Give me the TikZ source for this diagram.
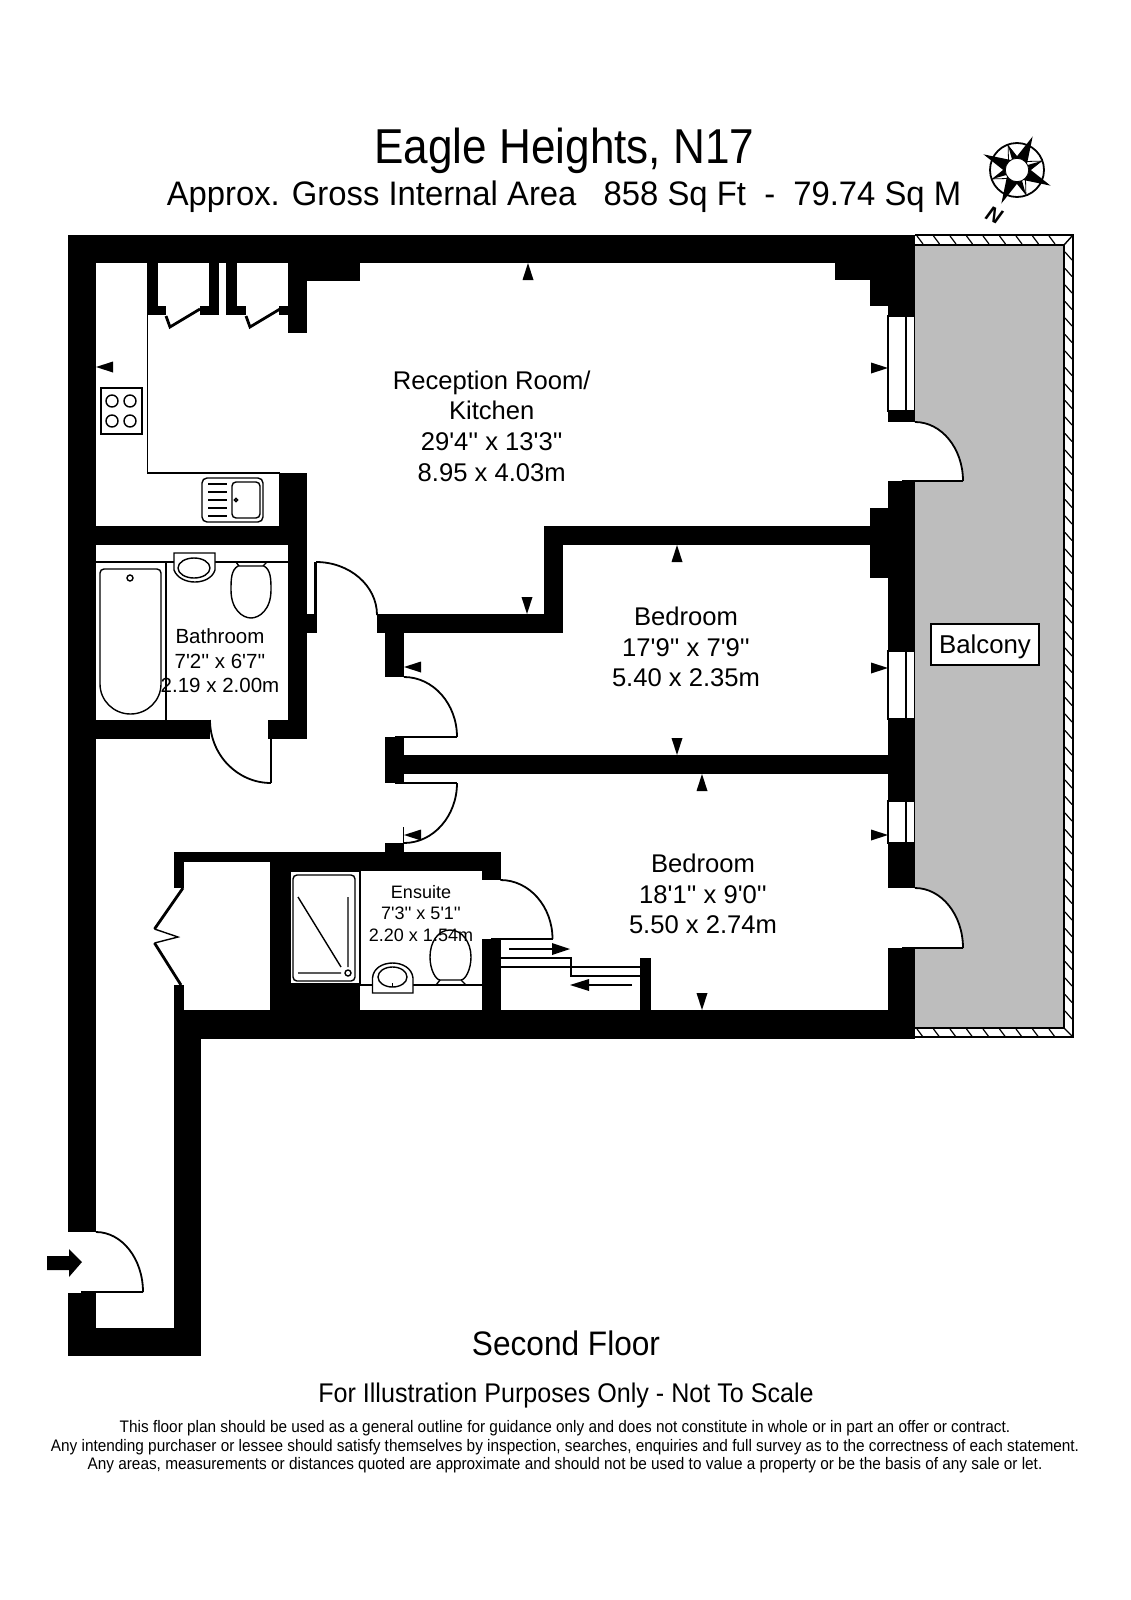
\documentclass[tikz,border=0pt]{standalone}
\usepackage{fontspec}
\setmainfont{Liberation Sans}
\newfontfamily\roomfont{Liberation Sans}
\newfontfamily\titlefont[FakeStretch=0.90]{Liberation Sans}
\newfontfamily\areafont[FakeStretch=0.965]{Liberation Sans}
\newfontfamily\floorfont[FakeStretch=0.93]{Liberation Sans}
\newfontfamily\notefont[FakeStretch=0.92]{Liberation Sans}
\newcommand{\fsize}[1]{\fontsize{#1}{#1}\selectfont}
\tikzset{
  wall/.style={fill=black},
  fixture/.style={draw=black,line width=1.4pt},
  leaf/.style={draw=black,line width=2.8pt},
  swing/.style={draw=black,line width=1.8pt},
  roomlabel/.style={inner sep=0pt,align=center,font=\roomfont\fsize{25.6},text depth=0pt},
}
\begin{document}
\begin{tikzpicture}[x=1pt,y=-1pt]
  \useasboundingbox (0,0) rectangle (1131,1600);
  % balcony
  \fill[fill={rgb,255:red,189;green,189;blue,189}] (915,245) rectangle (1064,1028);
  \draw[fixture] (915,235) -- (1073,235) -- (1073,1037) -- (915,1037);
  \draw[fixture] (915,245) -- (1064,245) -- (1064,1028) -- (915,1028);
  \draw[fixture] (1064,245) -- (1073,235) (1064,1028) -- (1073,1037);
  \foreach \hx in {917,933.5,...,1060} {
    \draw[line width=1.2pt] (\hx,236) -- +(6,8);
    \draw[line width=1.2pt] (\hx,1029) -- +(6,8);
  }
  \foreach \hy in {252,268.5,...,1025}
    \draw[line width=1.2pt] (1065,\hy) -- +(7,8);
  % door swings over the balcony
  \foreach \dy/\ey in {422/481,888/948} {
    \fill[white] (915,\dy) arc[start angle=-90,end angle=0,x radius=48,y radius=\ey-\dy] -- (915,\ey) -- cycle;
    \draw[swing] (915,\dy) arc[start angle=-90,end angle=0,x radius=48,y radius=\ey-\dy];
    \draw[leaf] (902,\ey) -- (963,\ey);
  }
  % walls
  \foreach \xa/\ya/\xb/\yb in {68/235/915/263,68/235/96/1232,68/1293/96/1356,68/1328/201/1356,174/1039/201/1356,
    147/263/158/315,147/306/166/315,209/263/219/315,200/306/219/315,226/263/237/315,226/306/246/315,
    279/306/288/315,288/263/307/333,307/263/360/281,835/263/915/280,870/280/915/306,888/306/915/316,
    888/411/915/422,888/481/915/651,870/508/888/578,888/719/915/801,888/843/915/888,888/948/915/1039,
    279/473/307/545,96/526/288/545,288/545/307/739,307/614/317/633,96/720/210/739,268/720/307/739,
    377/614/563/633,544/526/563/633,544/526/888/545,385/633/404/677,385/737/404/783,404/755/888/774,
    385/843/404/852,174/852/500.5/862,270/862/500.5/871,270/862/290/1010,290/984/360/1010,
    482/871/500.5/880,482/939/500.5/1010,174/852/184/888,174/985/184/1010,174/1010/888/1039,640/958/651/1010}
    \fill[wall] (\xa,\ya) rectangle (\xb,\yb);
  % windows
  \foreach \ya/\yb in {316/411,651/719,801/843} {
    \draw[fixture,fill=white] (888,\ya) rectangle (914.5,\yb);
    \draw[fixture] (906,\ya) -- (906,\yb);
  }
  % doors
  \draw[swing] (316,562) arc[start angle=-90,end angle=0,x radius=61,y radius=53];
  \draw[leaf] (315.5,562) -- (315.5,615);
  \draw[swing] (210,720) arc[start angle=180,end angle=90,x radius=61,y radius=63];
  \draw[leaf] (271,725) -- (271,783);
  \draw[swing] (404,677) arc[start angle=-90,end angle=0,x radius=53,y radius=60];
  \draw[fixture] (395,737) -- (457,737);
  \draw[fixture] (395,783) -- (457,783);
  \draw[swing] (457,783) arc[start angle=0,end angle=90,x radius=53,y radius=60];
  \draw[fixture] (403.5,827) -- (403.5,843);
  \draw[swing] (500.5,880) arc[start angle=-90,end angle=0,x radius=52,y radius=59];
  \draw[leaf] (491,939) -- (552.5,939);
  \draw[swing] (96,1232) arc[start angle=-90,end angle=0,x radius=47,y radius=60];
  \draw[leaf] (81,1292) -- (143,1292);
  % folding and cupboard doors
  \draw[leaf] (166,316) -- (170,327) -- (200,309);
  \draw[leaf] (246,316) -- (250,327) -- (280,309);
  \draw[leaf] (183,888) -- (154.5,929);
  \draw[leaf] (154.5,943) -- (181,985);
  \draw[fixture] (154.5,929) -- (178,937) -- (154.5,943);
  % kitchen
  \draw[fixture] (147.5,315) -- (147.5,473) -- (280,473);
  \draw[fixture] (101,388) rectangle (142,434);
  \foreach \cx/\cy in {112/401,130/401,112/421,130/421}
    \draw[fixture] (\cx,\cy) circle (6);
  \draw[fixture,rounded corners=5] (202,478) rectangle (263,522);
  \draw[fixture,rounded corners=4] (232,482) rectangle (260,518);
  \draw[fixture] (236,500) circle (1.6);
  \foreach \ly in {484,492,500,508,516}
    \draw[fixture] (208,\ly) -- (227,\ly);
  % bathroom
  \draw[fixture] (96,562) -- (288,562);
  \draw[fixture] (166,562) -- (166,720);
  \draw[fixture] (100,684) [rounded corners=4] -- (100,569) -- (161,569) [sharp corners] -- (161,684)
    arc[start angle=0,end angle=180,x radius=30.5,y radius=30];
  \draw[fixture] (130,578) circle (3);
  \draw[fixture,fill=white] (174,553) -- (215,553) -- (215,570) .. controls (210,586) and (180,586) .. (174,570) -- cycle;
  \draw[fixture] (194,568) ellipse (16 and 10);
  \draw[fixture,fill=white] (238,566) .. controls (231,570) and (231,580) .. (231,590)
    .. controls (231,610) and (243,618) .. (251,618) .. controls (259,618) and (271,610) .. (271,590)
    .. controls (271,580) and (271,570) .. (264,566) -- cycle;
  \draw[fixture] (236,562) -- (239,566) (267,562) -- (263,566);
  % ensuite
  \draw[fixture] (290,871) rectangle (360,984);
  \draw[fixture,rounded corners=4] (293,875) rectangle (355,981);
  \draw[fixture] (298,897) -- (341,967) (348,897) -- (348,967) (298,973) -- (341,973);
  \draw[fixture] (348,973) circle (3);
  \draw[fixture] (360,985) -- (482,985);
  \draw[fixture,fill=white] (372.5,993) -- (413,993) -- (413,978) .. controls (411,958) and (374,958) .. (372.5,978) -- cycle;
  \draw[fixture] (392.5,977) ellipse (14.5 and 10);
  \draw[fixture] (392.5,983) -- (392.5,987);
  \draw[fixture,fill=white] (450,930) .. controls (438,930) and (430,942) .. (430,957)
    .. controls (430,970) and (436,980) .. (440,980) -- (461,980) .. controls (465,980) and (471,970) .. (471,957)
    .. controls (471,942) and (462,930) .. (450,930) -- cycle;
  \draw[fixture] (436,985) -- (440,980) (466,985) -- (461,980);
  % steps
  \draw[fixture] (500.5,958) -- (571,958) -- (571,976) -- (640,976) (500.5,967) -- (640,967);
  \fill (552,943) -- (570,949) -- (552,955) -- cycle;
  \draw[fixture] (509,949) -- (555,949);
  \fill (589,979) -- (570,985) -- (589,991) -- cycle;
  \draw[fixture] (632,985) -- (586,985);
  % dimension ticks
  \foreach \tx/\ty/\tr in {96/367/0,404/667/0,404/835/0,888/368/180,888/668/180,888/835/180,
    528/263/-90,527/614/90,677/545/-90,677/755/90,702/774/-90,702/1010/90}
    \fill[shift={(\tx,\ty)},rotate=\tr] (0,0) -- (17,-5.5) -- (17,5.5) -- cycle;
  % entrance arrow
  \fill (47,1256) -- (69,1256) -- (69,1249) -- (82,1262) -- (69,1277) -- (69,1270) -- (47,1270) -- cycle;
  % compass
  \begin{scope}[shift={(1017,170)}]
    \draw[line width=1.8pt] (0,0) circle (27);
    \foreach \pa in {25,115,205,295} {
      \draw[line width=.8pt,fill=white] (\pa+20:12) -- (\pa+45:26) -- (\pa+70:12) -- cycle;
      \fill (\pa+45:26) -- (\pa+70:12) -- (\pa+40:12) -- cycle;
      \fill (\pa-32:12) -- (\pa:37) -- (\pa+32:12) -- cycle;
    }
    \draw[line width=.8pt,fill=white] (0,0) circle (11.7);
  \end{scope}
  % text
  \node (north) [rotate=-25,font=\fsize{21}\bfseries\itshape] at (994,215) {N};
  \node (title) [anchor=base,inner sep=0pt,font=\titlefont\fsize{49}] at (564.5,164) {Eagle Heights, N17};
  \node (area) [anchor=base,inner sep=0pt,font=\areafont\fsize{34}] at (564,205) {Approx. Gross Internal Area\ \ \ 858 Sq Ft\ \ -\ \ 79.74 Sq M};
  \node (reception) [roomlabel,anchor=center] at (491.7,426) {Reception Room/\\[5pt]Kitchen\\[5pt]29'4'' x 13'3''\\[5pt]8.95 x 4.03m};
  \node (bedroomone) [roomlabel,anchor=center] at (686,647) {Bedroom\\[5pt]17'9'' x 7'9''\\[5pt]5.40 x 2.35m};
  \node (bedroomtwo) [roomlabel,anchor=center] at (703,894) {Bedroom\\[5pt]18'1'' x 9'0''\\[5pt]5.50 x 2.74m};
  \node (bathroom) [roomlabel,anchor=center,font=\roomfont\fsize{20.5}] at (220,661) {Bathroom\\[4pt]7'2'' x 6'7''\\[4pt]2.19 x 2.00m};
  \node (ensuite) [roomlabel,anchor=center,font=\roomfont\fsize{18}] at (421,913) {Ensuite\\[3.5pt]7'3'' x 5'1''\\[3.5pt]2.20 x 1.54m};
  \node (balcony) [draw,line width=1.2pt,fill=white,minimum width=108pt,minimum height=41pt,inner sep=0pt,text height=22pt,text depth=4pt,font=\fsize{25.8}] at (985,644.5) {Balcony};
  \node (floor) [anchor=base,inner sep=0pt,font=\floorfont\fsize{34}] at (566,1355) {Second Floor};
  \node (scale) [anchor=base,inner sep=0pt,font=\floorfont\fsize{27}] at (566,1402) {For Illustration Purposes Only - Not To Scale};
  \node (note) [inner sep=0pt,align=center,font=\notefont\fsize{16.7}] at (565,1447) {This floor plan should be used as a general outline for guidance only and does not constitute in whole or in part an offer or contract.\\[1.8pt]Any intending purchaser or lessee should satisfy themselves by inspection, searches, enquiries and full survey as to the correctness of each statement.\\[1.8pt]Any areas, measurements or distances quoted are approximate and should not be used to value a property or be the basis of any sale or let.};
\end{tikzpicture}
\end{document}
